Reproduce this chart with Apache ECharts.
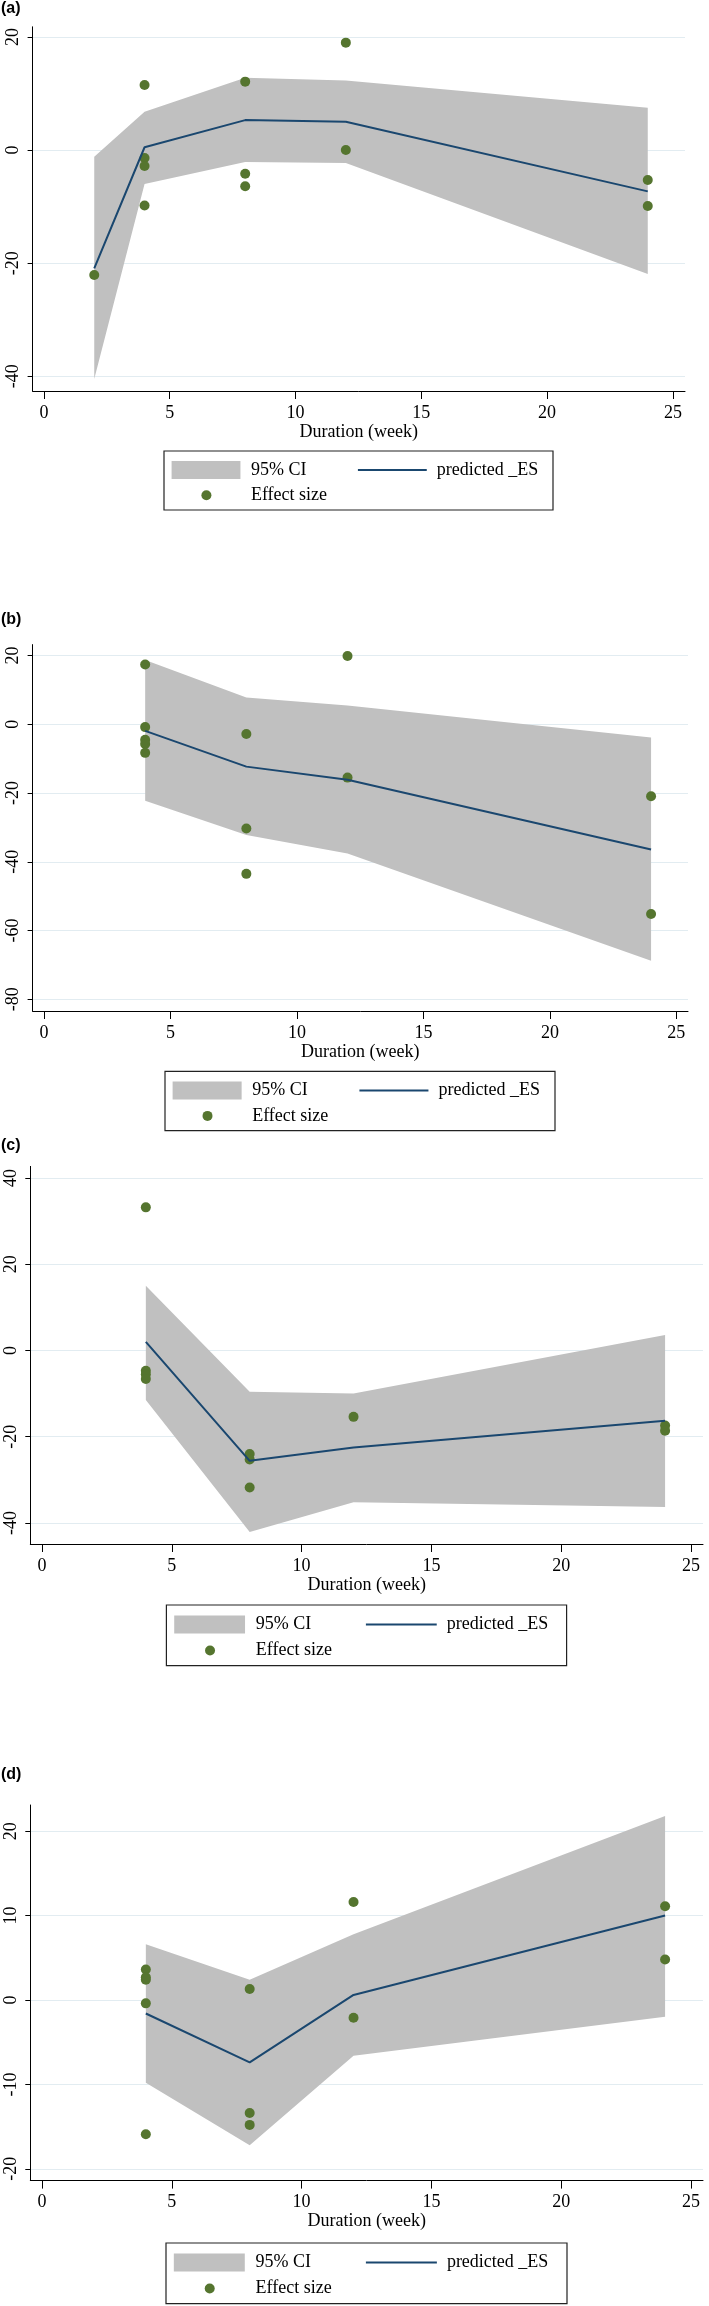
<!DOCTYPE html>
<html>
<head>
<meta charset="utf-8">
<script src="https://cdn.jsdelivr.net/npm/echarts@6/dist/echarts.min.js"></script>
<style>
html, body { margin: 0; padding: 0; background: #fff; }
#main { width: 709px; height: 2306px; }
</style>
</head>
<body>
<div id="main"></div>
<script>
// x ticks shared by all panels
var xTicks = [0, 5, 10, 15, 20, 25];

// (a)
var weeksA = [2, 4, 8, 12, 24];
var fitA = [-20.9, 0.5, 5.3, 5.0, -7.3];
var ciLowA = [-40.5, -6.0, -2.1, -2.3, -21.9];
var ciHighA = [-1.2, 6.8, 12.8, 12.3, 7.5];
var esWeekA = [2, 4, 4, 4, 4, 8, 8, 8, 12, 12, 24, 24];
var esA = [-22.1, 11.5, -1.4, -2.8, -9.8, 12.1, -4.2, -6.4, 19.0, 0.0, -5.3, -9.9];
var yTicksA = [-40, -20, 0, 20];

// (b)
var weeksB = [4, 8, 12, 24];
var fitB = [-1.9, -12.3, -16.1, -36.4];
var ciLowB = [-22.2, -32.2, -37.6, -68.8];
var ciHighB = [18.7, 7.8, 5.5, -3.8];
var esWeekB = [4, 4, 4, 4, 4, 8, 8, 8, 12, 12, 24, 24];
var esB = [17.4, -0.8, -4.5, -5.7, -8.3, -2.8, -30.3, -43.5, 19.9, -15.5, -20.9, -55.2];
var yTicksB = [-80, -60, -40, -20, 0, 20];

// (c)
var weeksC = [4, 8, 12, 24];
var fitC = [2.0, -25.6, -22.5, -16.3];
var ciLowC = [-11.5, -42.1, -35.2, -36.3];
var ciHighC = [15.0, -9.6, -10.0, 3.6];
var esWeekC = [4, 4, 4, 4, 8, 8, 8, 12, 24, 24];
var esC = [33.2, -4.7, -5.5, -6.6, -24.0, -25.3, -31.8, -15.4, -17.4, -18.6];
var yTicksC = [-40, -20, 0, 20, 40];

// (d)
var weeksD = [4, 8, 12, 24];
var fitD = [-1.6, -7.4, 0.6, 10.0];
var ciLowD = [-9.8, -17.2, -6.6, -2.0];
var ciHighD = [6.6, 2.4, 7.8, 21.8];
var esWeekD = [4, 4, 4, 4, 4, 8, 8, 8, 12, 12, 24, 24];
var esD = [3.6, 2.7, 2.4, -0.4, -15.9, 1.3, -13.4, -14.8, 11.6, -2.1, 11.1, 4.8];
var yTicksD = [-20, -10, 0, 10, 20];

var panels = [
    { label: '(a)', weeks: weeksA, fit: fitA, lo: ciLowA, hi: ciHighA, esW: esWeekA, es: esA, yTicks: yTicksA,
      yMin: -42.6, yMax: 21.8, xMax: 25.48,
      grid: { left: 32.6, top: 26.8, width: 652.4, height: 364.2 }, labelTop: 1,
      box: [164, 451, 389, 59] },
    { label: '(b)', weeks: weeksB, fit: fitB, lo: ciLowB, hi: ciHighB, esW: esWeekB, es: esB, yTicks: yTicksB,
      yMin: -83.4, yMax: 23.2, xMax: 25.46,
      grid: { left: 32.6, top: 644.6, width: 655.4, height: 366.4 }, labelTop: 612,
      box: [165, 1071.4, 390, 59.3] },
    { label: '(c)', weeks: weeksC, fit: fitC, lo: ciLowC, hi: ciHighC, esW: esWeekC, es: esC, yTicks: yTicksC,
      yMin: -44.9, yMax: 42.7, xMax: 25.46,
      grid: { left: 30.3, top: 1166.4, width: 672.7, height: 377.6 }, labelTop: 1138,
      box: [166.4, 1605, 400.2, 60.7] },
    { label: '(d)', weeks: weeksD, fit: fitD, lo: ciLowD, hi: ciHighD, esW: esWeekD, es: esD, yTicks: yTicksD,
      yMin: -21.4, yMax: 23.1, xMax: 25.46,
      grid: { left: 30.3, top: 1805, width: 672.7, height: 375.6 }, labelTop: 1767,
      box: [166, 2243, 401, 60.6] }
];

var serif = 'Liberation Serif';
var bandColor = '#c0c0c0';
var lineColor = '#1a476f';
var dotColor = '#55752f';
var gridColor = '#e2ecf1';

var option = {
    animation: false,
    backgroundColor: '#fff',
    title: [],
    grid: [],
    xAxis: [],
    yAxis: [],
    legend: [],
    graphic: [],
    series: []
};

panels.forEach(function (p, i) {
    option.title.push({
        text: p.label, left: 1, top: p.labelTop, padding: 0,
        textStyle: { fontFamily: 'Liberation Sans', fontWeight: 'bold', fontSize: 16, color: '#000' }
    });
    option.grid.push(p.grid);
    option.xAxis.push({
        type: 'value', gridIndex: i, min: -0.45, max: p.xMax,
        name: 'Duration (week)', nameLocation: 'middle', nameGap: 31,
        nameTextStyle: { fontFamily: serif, fontSize: 18, color: '#000' },
        axisLine: { show: true, onZero: false, lineStyle: { color: '#000', width: 1 } },
        axisTick: { show: true, length: 8, customValues: xTicks, lineStyle: { color: '#000' } },
        axisLabel: { customValues: xTicks, margin: 13, fontFamily: serif, fontSize: 18, color: '#000' },
        splitLine: { show: false }
    });
    option.yAxis.push({
        type: 'value', gridIndex: i, min: p.yMin, max: p.yMax,
        axisLine: { show: true, onZero: false, lineStyle: { color: '#000', width: 1 } },
        axisTick: { show: true, length: 5, customValues: p.yTicks, lineStyle: { color: '#000' } },
        axisLabel: { customValues: p.yTicks, rotate: 90, margin: 10, fontFamily: serif, fontSize: 18, color: '#000' },
        splitLine: { show: true, lineStyle: { color: gridColor, width: 1.2 } }
    });

    // 95% CI band as one polygon through the axis scales
    var bandData = p.weeks.map(function (w, k) { return [w, p.lo[k], p.hi[k]]; });
    option.series.push({
        type: 'custom', name: '95% CI', xAxisIndex: i, yAxisIndex: i, silent: true, clip: true,
        itemStyle: { color: bandColor },
        encode: { x: 0, y: [1, 2] },
        data: bandData,
        renderItem: function (params, api) {
            if (params.dataIndex !== 0) return;
            var pts = [];
            bandData.forEach(function (d) { pts.push(api.coord([d[0], d[2]])); });
            bandData.slice().reverse().forEach(function (d) { pts.push(api.coord([d[0], d[1]])); });
            return { type: 'polygon', shape: { points: pts }, style: { fill: bandColor } };
        }
    });
    option.series.push({
        type: 'line', name: 'predicted _ES', xAxisIndex: i, yAxisIndex: i,
        symbol: 'none',
        itemStyle: { color: lineColor },
        lineStyle: { color: lineColor, width: 2 },
        data: p.weeks.map(function (w, k) { return [w, p.fit[k]]; })
    });
    option.series.push({
        type: 'scatter', name: 'Effect size', xAxisIndex: i, yAxisIndex: i,
        symbol: 'circle', symbolSize: 10,
        itemStyle: { color: dotColor, opacity: 1 },
        data: p.esW.map(function (w, k) { return [w, p.es[k]]; })
    });

    // legend box and its three entries
    var bx = p.box[0], by = p.box[1], bw = p.box[2], bh = p.box[3];
    option.graphic.push({
        type: 'rect', shape: { x: bx, y: by, width: bw, height: bh },
        style: { fill: 'none', stroke: '#222', lineWidth: 1.2 }
    });
    var swW = 0.177 * bw;
    var swL = bx + 0.0195 * bw;
    var textL = bx + 0.2235 * bw;
    var lineL = bx + 0.4985 * bw;
    var textL2 = lineL + swW + 10;
    var dotC = bx + 0.109 * bw;
    var row1 = by + 0.32 * bh;
    var row2 = by + 0.75 * bh;
    var legText = { fontFamily: serif, fontSize: 18, color: '#000' };
    option.legend.push({
        left: swL, top: row1 - 9, padding: 0, itemWidth: swW, itemHeight: 18, selectedMode: false,
        textStyle: Object.assign({ padding: [0, 0, 0, textL - swL - swW - 5] }, legText),
        data: [{ name: '95% CI', icon: 'rect', itemStyle: { color: bandColor } }]
    });
    option.legend.push({
        left: lineL, top: row1 - 9, padding: 0, itemWidth: swW, itemHeight: 2, selectedMode: false,
        textStyle: Object.assign({ padding: [0, 0, 0, textL2 - lineL - swW - 5] }, legText),
        data: [{ name: 'predicted _ES', icon: 'rect', itemStyle: { color: lineColor } }]
    });
    option.legend.push({
        left: dotC - 5, top: row2 - 9, padding: 0, itemWidth: 10, itemHeight: 10, selectedMode: false,
        textStyle: Object.assign({ padding: [0, 0, 0, textL - dotC - 5 - 5] }, legText),
        data: [{ name: 'Effect size', icon: 'circle' }]
    });
});

var myChart = echarts.init(document.getElementById('main'));
myChart.setOption(option);

window.onresize = function () {
    myChart.resize();
};
</script>
</body>
</html>
